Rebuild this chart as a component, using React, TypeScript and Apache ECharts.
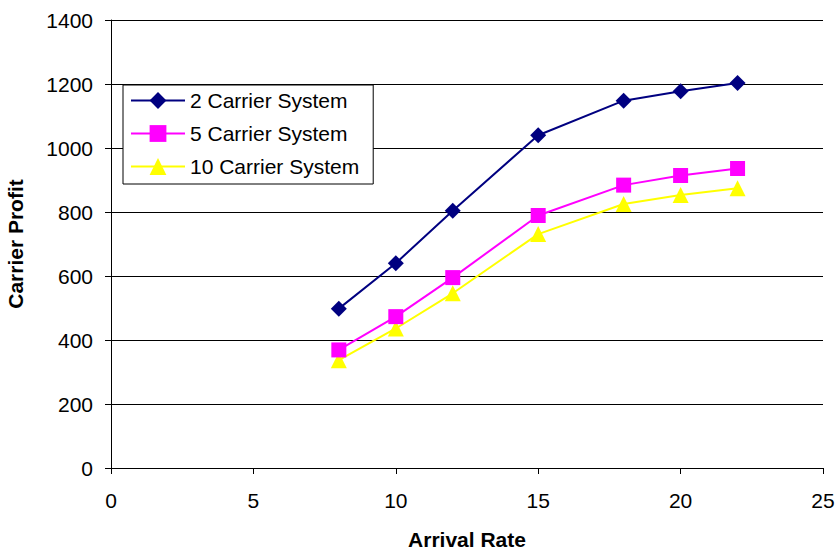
import React, { useEffect, useRef } from "react";
import * as echarts from "echarts";

const arrivalRates = [8, 10, 12, 15, 18, 20, 22];
const twoCarrier = [498, 640, 804, 1040, 1148, 1177, 1203];
const fiveCarrier = [369, 473, 595, 789, 884, 914, 936];
const tenCarrier = [337, 436, 546, 731, 825, 853, 874];
const seriesNames = ["2 Carrier System", "5 Carrier System", "10 Carrier System"];

const FONT = 'Arial, "Liberation Sans", sans-serif';

const pairs = (ys: number[]) => arrivalRates.map((x, i) => [x, ys[i]]);

export default function App() {
  const ref = useRef<HTMLDivElement>(null);

  useEffect(() => {
    if (!ref.current) return;
    const chart = echarts.init(ref.current, undefined, { renderer: "svg" });
    chart.setOption({
      animation: false,
      backgroundColor: "#ffffff",
      grid: {
        left: 111,
        right: 15,
        top: 20,
        bottom: 88,
        containLabel: false,
        outerBoundsMode: "none",
      },
      xAxis: {
        type: "value",
        min: 0,
        max: 25,
        interval: 5,
        name: "Arrival Rate",
        nameLocation: "middle",
        nameGap: 61,
        nameTextStyle: { fontFamily: FONT, fontSize: 21, fontWeight: "bold", color: "#000" },
        axisLine: { show: true, onZero: false, lineStyle: { color: "#000", width: 1 } },
        axisTick: { show: true, inside: false, length: 6, lineStyle: { color: "#000" } },
        axisLabel: {
          fontFamily: FONT,
          fontSize: 21,
          color: "#000",
          margin: 22,
          formatter: (v: number) => String(v),
        },
        splitLine: { show: false },
      },
      yAxis: {
        type: "value",
        min: 0,
        max: 1400,
        interval: 200,
        name: "Carrier Profit",
        nameLocation: "middle",
        nameRotate: 90,
        nameGap: 85,
        nameTextStyle: { fontFamily: FONT, fontSize: 21, fontWeight: "bold", color: "#000" },
        axisLine: { show: true, lineStyle: { color: "#000", width: 1 } },
        axisTick: { show: true, inside: false, length: 6, lineStyle: { color: "#000" } },
        axisLabel: {
          fontFamily: FONT,
          fontSize: 21,
          color: "#000",
          margin: 18,
          formatter: (v: number) => String(v),
        },
        splitLine: { show: true, lineStyle: { color: "#000", width: 1 } },
      },
      legend: {
        orient: "vertical",
        left: 123,
        top: 85,
        padding: [5, 14, 7, 7],
        itemGap: 12,
        itemWidth: 54,
        itemHeight: 21,
        backgroundColor: "#fff",
        borderColor: "#000",
        borderWidth: 1,
        textStyle: { fontFamily: FONT, fontSize: 21, color: "#000" },
        data: seriesNames,
      },
      series: [
        {
          name: seriesNames[0],
          type: "line",
          data: pairs(twoCarrier),
          symbol: "diamond",
          symbolSize: 16,
          lineStyle: { color: "#000080", width: 2 },
          itemStyle: { color: "#000080" },
          z: 3,
        },
        {
          name: seriesNames[1],
          type: "line",
          data: pairs(fiveCarrier),
          symbol: "rect",
          symbolSize: 15,
          lineStyle: { color: "#ff00ff", width: 2 },
          itemStyle: { color: "#ff00ff" },
          z: 2,
        },
        {
          name: seriesNames[2],
          type: "line",
          data: pairs(tenCarrier),
          symbol: "triangle",
          symbolSize: 16,
          lineStyle: { color: "#ffff00", width: 2 },
          itemStyle: { color: "#ffff00" },
          z: 1,
        },
      ],
    });
    return () => chart.dispose();
  }, []);

  return <div ref={ref} style={{ width: 838, height: 556, position: "absolute", left: 0, top: 0 }} />;
}
